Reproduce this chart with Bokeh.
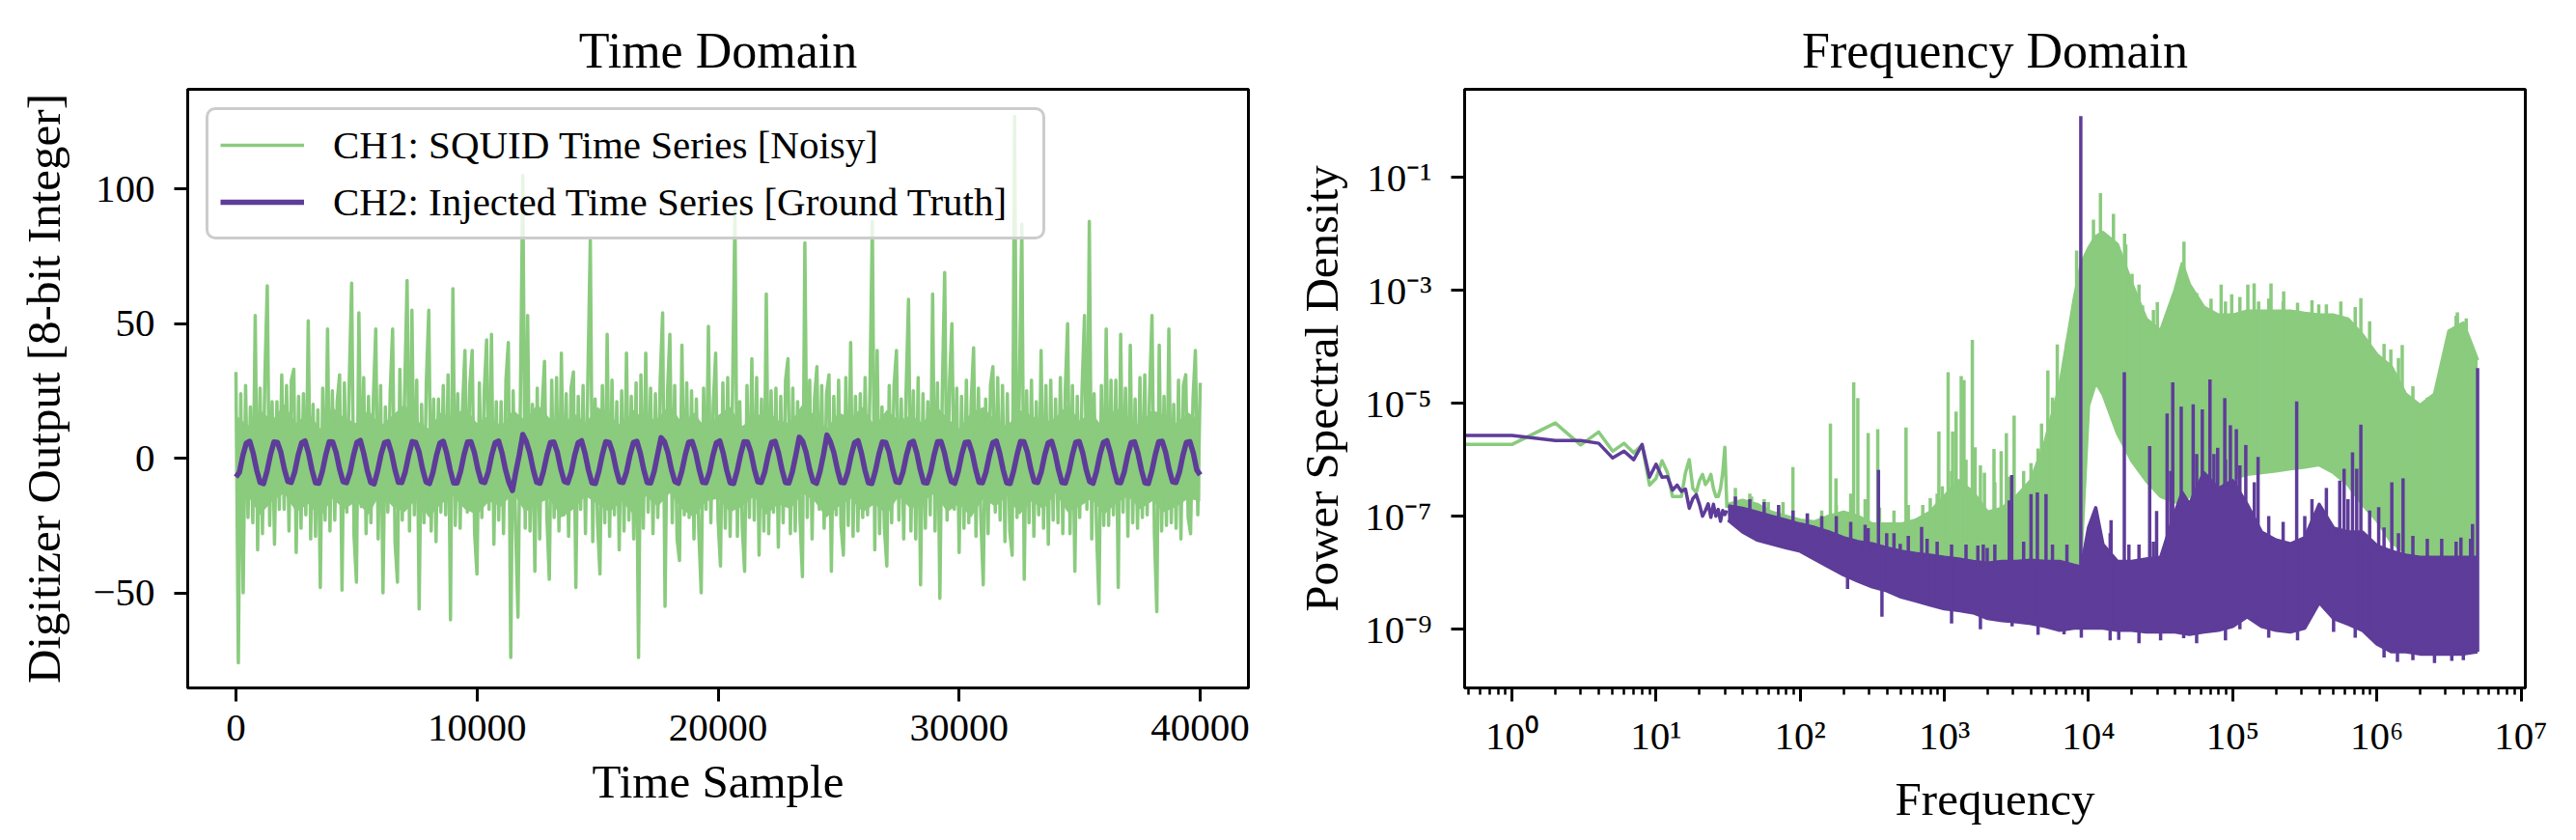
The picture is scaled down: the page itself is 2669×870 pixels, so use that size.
import numpy as np
from bokeh.plotting import figure
from bokeh.layouts import row
from bokeh.models import Range1d, FixedTicker, CustomJSTickFormatter, Legend, LegendItem
from bokeh.embed import file_html
from bokeh.resources import INLINE

FONT = "Liberation Serif"
GREEN = "#8acb7e"
PURPLE = "#5e3c99"

# ---------------- Time-domain data ----------------
ch1_sample_step = 100          # one stored value per 100 time samples
ch1_time_values = [
    32, -76, 24, -50, 27, -22, 19, -24, 53, -34,
    26, -28, 30, 64, -25, 21, -32, 21, -19, 31,
    -19, 27, -27, 29, 33, -35, 23, -26, 24, -21,
    51, -30, 20, -29, 18, -48, 26, -23, 48, -27,
    25, -23, 21, 31, -49, 28, -20, 28, 65, -29,
    -46, 54, -18, 30, -28, 23, -24, 22, 48, -30,
    27, -50, 19, -20, 25, 48, -31, -46, 33, -23,
    25, 66, -27, 55, -21, 29, -56, 20, -24, 29,
    55, -27, 22, -31, 22, -20, 27, -21, 31, -60,
    63, -25, 24, -26, 19, 40, -20, 27, 40, -28,
    -43, 28, -22, 25, 44, -19, 46, -32, 21, -23,
    21, -28, 29, 43, -74, 25, -25, -59, 22, 105,
    -26, 53, -27, 20, -42, 26, -30, 19, 36, -22,
    -45, 29, -22, 30, -27, 39, -21, 24, -29, 26,
    32, -48, 23, -19, 27, -28, 30, 81, -31, 22,
    -24, -43, 27, -24, 46, -29, 29, -21, 21, -34,
    25, -27, 39, -23, 23, -30, 28, -74, 31, -26,
    39, -20, 26, -28, 24, -22, 29, 54, -55, 24,
    46, -24, 27, -30, -38, 42, -21, 28, -22, 25,
    -30, 22, -27, -50, 26, -19, 49, -24, 20, 39,
    -23, -40, 28, -26, 30, -29, 24, 92, -29, 21,
    -25, -42, 27, -22, 37, -23, 30, -36, 22, -27,
    61, -28, 25, -20, 26, -33, 23, -24, 29, 37,
    -28, 26, -27, 21, -23, -44, 80, -22, 29, -30,
    22, 34, -19, 27, -26, 24, 31, -42, 23, -21,
    29, -25, -36, 30, -25, 43, -29, 23, -27, 24,
    -22, 30, -21, 26, 88, -34, 40, -28, 19, -26,
    -40, 27, -24, 27, 40, -23, 22, -30, 25, 59,
    -27, 25, -30, 30, -47, 24, -26, 21, -21, 61,
    -27, 28, -52, 24, 69, -23, 28, 50, -19, 26,
    -35, 23, -26, 29, -24, 21, 41, -29, 26, -22,
    -47, 22, -28, 27, 34, -20, 30, -23, 27, -31,
    24, -27, -36, 127, -22, 26, 87, -45, 25, -24,
    29, -29, 21, -21, 40, -26, 27, -32, 29, -23,
    22, -24, 30, -28, 25, 50, -28, 27, -42, 23,
    -22, 26, 53, -19, 88, -30, 24, -27, -54, 27,
    -25, 48, -25, 29, -21, 29, -48, 46, -20, 26,
    -29, 42, -24, 22, -26, 30, -22, 31, -21, 24,
    53, -28, -57, 42, -27, 23, -25, 48, -24, 20,
    -26, 29, -30, 27, 31, -22, -28, 22, 40, -21,
    28,
]
# dense (solid) core of the noisy channel, one value per 500 samples
ch1_core_step = 500
ch1_core_hi = [16, 12, 18, 14, 20, 13, 17, 11, 19, 15,
               13, 18, 12, 16, 20, 14, 11, 17, 15, 19,
               13, 16, 12, 18, 14, 20, 15, 11, 17, 13,
               19, 16, 12, 18, 14, 15, 20, 13, 17, 11,
               16, 19, 12, 15, 18, 14, 13, 20, 16, 11,
               17, 15, 19, 12, 18, 14, 16, 13, 20, 15,
               11, 17, 19, 14, 12, 18, 16, 13, 15, 20,
               14, 17, 11, 19, 15, 12, 18, 16, 13, 17,
               14]
ch1_core_lo = [-18, -14, -21, -16, -13, -20, -17, -22, -15, -19,
               -16, -21, -13, -18, -20, -15, -22, -17, -14, -19,
               -21, -16, -18, -13, -20, -17, -15, -22, -19, -14,
               -17, -20, -16, -21, -14, -18, -13, -19, -22, -16,
               -15, -20, -18, -14, -21, -17, -19, -13, -16, -22,
               -18, -15, -20, -17, -21, -14, -19, -16, -13, -20,
               -17, -22, -15, -18, -14, -21, -16, -19, -13, -20,
               -18, -15, -21, -17, -14, -19, -16, -20, -18, -15,
               -16]

ch2_time_span = (0, 40000)     # values below are evenly spread over this span
ch2_time_values = [
    -7.0, -5.2, 1.0, 5.6, 6.3, 1.8, -4.4, -9.0,
    -9.4, -4.8, 1.4, 6.0, 5.9, 2.2, -4.0, -8.6,
    -9.0, -5.1, 1.1, 5.7, 6.4, 1.9, -4.3, -9.1,
    -9.3, -4.9, 1.3, 6.1, 6.0, 2.1, -4.1, -8.7,
    -9.1, -5.2, 1.0, 5.9, 6.6, 1.7, -4.5, -9.0,
    -9.5, -4.7, 1.5, 5.8, 6.2, 2.0, -4.2, -8.9,
    -9.0, -5.0, 1.2, 6.2, 5.9, 2.3, -4.0, -8.8,
    -9.4, -5.3, 0.9, 5.6, 6.3, 1.8, -4.4, -9.2,
    -9.2, -4.9, 1.3, 6.0, 6.1, 2.1, -4.1, -8.7,
    -9.0, -5.1, 1.1, 5.8, 6.4, 1.9, -4.3, -9.0,
    -12.0, -5.0, 1.4, 8.8, 6.2, 2.0, -4.2, -8.9,
    -9.3, -4.8, 1.2, 5.9, 6.0, 2.2, -4.0, -8.6,
    -9.1, -5.2, 1.0, 5.7, 6.5, 1.8, -4.4, -9.1,
    -9.4, -4.9, 1.3, 6.1, 5.9, 2.1, -4.1, -8.8,
    -9.0, -5.1, 1.1, 5.8, 6.3, 1.9, -4.3, -9.0,
    -9.2, -5.0, 1.4, 7.6, 6.1, 2.0, -4.2, -8.7,
    -9.3, -4.9, 1.2, 6.0, 6.2, 2.1, -4.0, -8.9,
    -9.1, -5.2, 1.0, 5.7, 6.4, 1.8, -4.4, -9.1,
    -9.4, -4.8, 1.3, 6.1, 6.0, 2.2, -4.1, -8.8,
    -9.0, -5.1, 1.1, 5.9, 6.3, 1.9, -4.3, -9.0,
    -9.2, -5.0, 1.2, 7.8, 6.2, 2.0, -4.2, -8.7,
    -9.3, -4.9, 1.4, 8.6, 6.1, 2.1, -4.0, -8.9,
    -9.1, -5.2, 1.0, 5.8, 6.5, 1.8, -4.4, -9.1,
    -9.4, -4.8, 1.3, 6.0, 5.9, 2.2, -4.1, -8.8,
    -9.0, -5.1, 1.1, 5.7, 6.3, 1.9, -4.3, -9.0,
    -9.2, -5.0, 1.2, 6.1, 6.2, 2.0, -4.2, -8.7,
    -9.3, -4.9, 1.4, 5.9, 6.0, 2.1, -4.0, -8.9,
    -9.1, -5.2, 1.0, 5.8, 6.4, 1.8, -4.4, -9.1,
    -9.4, -4.8, 1.3, 6.2, 6.1, 2.2, -4.1, -8.8,
    -9.0, -5.1, 1.1, 5.7, 6.3, 1.9, -4.3, -9.0,
    -9.2, -5.0, 1.2, 6.0, 6.2, 2.0, -4.2, -8.7,
    -9.3, -4.9, 1.4, 5.9, 6.5, 2.1, -4.0, -8.9,
    -9.1, -5.2, 1.0, 5.8, 6.1, 1.8, -4.4, -9.1,
    -9.4, -4.8, 1.3, 6.1, 6.3, 2.2, -4.1, -8.8,
    -9.0, -5.1, 1.1, 5.9, 6.2, 1.9, -4.3, -6.2,
]

# ---------------- Frequency-domain data (log10 of PSD) ----------------
low_freq = list(range(32))  # Hz (0 .. 31)
ch1_low_log = [-5.73, -5.73, -5.35, -5.74, -5.51, -5.85, -5.71, -5.88, -5.74, -6.45,
               -6.33, -6.02, -6.23, -6.65, -6.65, -6.65, -6.23, -6.00, -6.51, -6.58,
               -6.37, -6.26, -6.44, -6.37, -6.26, -6.51, -6.65, -6.65, -6.51, -6.23,
               -5.78, -6.85]
ch2_low_log = [-5.57, -5.57, -5.66, -5.66, -5.71, -5.97, -5.85, -6.00, -5.73, -6.31,
               -6.08, -6.31, -6.30, -6.54, -6.45, -6.56, -6.52, -6.86, -6.69, -6.62,
               -6.79, -7.00, -6.90, -6.78, -7.02, -6.79, -7.00, -6.88, -7.09, -6.90,
               -6.97, -6.90]

band_freq = [31.6, 39.8, 50.1, 63.1, 79.4, 100, 126, 158, 200, 251, 316, 398, 501, 631, 794,
             1000, 1259, 1585, 1995, 2512, 3162, 3981, 5012, 6310, 7943, 8913, 10000, 11220,
             12589, 15849, 19953, 25119, 31623, 39811, 44668, 50119, 63096, 79433, 1e5,
             125893, 158489, 199526, 251189, 316228, 398107, 501187, 630957, 794328, 1e6,
             1258925, 1584893, 1995262, 2511886, 3162278, 3981072, 5e6]

ch1_band_hi_log = [-6.79, -6.72, -6.79, -6.93, -7.00, -7.07, -7.10, -7.00, -6.93, -7.00,
                   -7.14, -7.14, -7.14, -7.07, -6.93, -6.65, -6.37, -6.58, -6.93, -6.86,
                   -6.65, -6.37, -5.67, -4.70, -3.16, -2.53, -2.26, -2.05, -1.98, -2.19,
                   -2.88, -3.51, -3.72, -3.00, -2.53, -2.90, -3.30, -3.44, -3.44, -3.37,
                   -3.37, -3.37, -3.37, -3.41, -3.44, -3.44, -3.51, -3.79, -4.14, -4.35,
                   -4.84, -5.04, -4.84, -3.72, -3.58, -4.24]
ch1_band_lo_log = [-6.95, -7.00, -7.10, -7.20, -7.25, -7.30, -7.40, -7.50, -7.60, -7.70,
                   -7.75, -7.80, -7.90, -7.95, -8.00, -8.00, -8.05, -8.10, -8.10, -8.10,
                   -8.10, -8.10, -8.10, -8.10, -8.10, -7.60, -5.04, -4.63, -4.84, -5.53,
                   -6.02, -6.37, -6.65, -6.75, -6.72, -6.65, -6.51, -6.44, -6.33, -6.26,
                   -6.23, -6.20, -6.16, -6.13, -6.09, -6.23, -6.44, -6.79, -7.07, -7.45,
                   -7.66, -7.75, -7.75, -7.75, -7.75, -7.75]
ch2_band_hi_log = [-6.82, -6.86, -6.93, -7.00, -7.07, -7.14, -7.20, -7.28, -7.38, -7.45,
                   -7.49, -7.56, -7.62, -7.66, -7.69, -7.73, -7.76, -7.80, -7.83, -7.80,
                   -7.80, -7.78, -7.80, -7.80, -7.87, -7.90, -7.20, -6.85, -7.50, -7.80,
                   -7.80, -7.76, -7.73, -6.93, -6.58, -6.79, -6.23, -6.51, -6.37, -6.79,
                   -7.28, -7.42, -7.49, -7.38, -6.79, -7.21, -7.28, -7.28, -7.52, -7.62,
                   -7.69, -7.73, -7.73, -7.73, -7.73, -7.73]
ch2_band_lo_log = [-7.07, -7.28, -7.42, -7.49, -7.56, -7.62, -7.76, -7.90, -8.04, -8.15,
                   -8.25, -8.32, -8.43, -8.50, -8.57, -8.64, -8.67, -8.71, -8.81, -8.85,
                   -8.87, -8.90, -8.95, -9.02, -8.98, -8.98, -8.98, -8.98, -8.98, -9.02,
                   -9.02, -9.05, -9.05, -9.05, -9.07, -9.09, -9.05, -9.02, -8.95, -8.78,
                   -8.95, -9.02, -9.05, -8.98, -8.53, -8.81, -8.91, -9.02, -9.26, -9.40,
                   -9.40, -9.44, -9.44, -9.44, -9.44, -9.40]

# upward spikes (frequency in Hz, log10 PSD at the spike tip)
ch1_spike_freq = [46, 60, 76, 89, 162, 177, 235, 251, 296, 345, 542, 798, 916, 968, 1062,
                  1141, 1206, 1309, 1368, 1563, 1634, 1896, 2209, 2477, 2692, 3047, 3990,
                  4720, 5222, 6072, 7063, 8265, 10820, 12100, 14890, 18120, 20040, 23710,
                  30000, 45920, 83180, 98400, 127400, 140900, 184500, 225800, 395500,
                  774600, 1250000, 1500000, 2660000, 3620000,
                  35.5, 44.7, 56.2, 70.8, 112, 141, 178, 224, 282, 355, 447, 562, 708, 891,
                  1122, 1413, 1778, 2239, 2818, 3548, 4467, 5623, 7079, 17783, 22387, 28184,
                  35481, 56234, 70795, 89125, 112202, 151356, 177828, 223872, 281838, 354813,
                  446684, 562341, 707946, 891251, 1122018, 1412538, 1778279, 2238721,
                  2818383, 3548134, 4168694]
ch1_spike_log = [-6.65, -6.75, -6.75, -6.13, -5.36, -6.33, -4.63, -4.91, -5.53, -5.46, -5.43,
                 -6.68, -5.50, -6.47, -4.45, -5.50, -5.15, -4.52, -4.59, -3.88, -5.78, -6.23,
                 -5.81, -5.85, -5.53, -5.22, -6.06, -5.36, -4.42, -3.96, -3.96, -2.30, -1.75,
                 -1.28, -1.65, -2.19, -2.71, -3.27, -3.21, -2.14, -2.90, -3.07, -2.90, -2.88,
                 -2.88, -3.02, -3.25, -3.14, -4.05, -3.97, -4.70, -3.39,
                 -6.50, -6.60, -6.70, -6.85, -6.95, -6.90, -6.80, -6.60, -6.70, -6.85,
                 -6.90, -6.80, -6.80, -6.60, -6.20, -6.00, -6.10, -6.40, -6.30, -6.20,
                 -5.80, -4.90, -3.90, -2.00, -2.90, -3.35, -3.50, -3.05, -3.15, -3.20,
                 -3.12, -3.20, -3.15, -3.20, -3.22, -3.18, -3.25, -3.20, -3.30, -3.55,
                 -3.95, -4.20, -4.70, -4.90, -4.30, -3.45, -3.50]

ch2_spike_freq = [296, 349, 494, 695, 1707, 1982, 2818, 2931, 3990, 4416, 5070, 8836, 14330,
                  17710, 26550, 29670, 35090, 38380, 43950, 53200, 61560, 69550, 78700,
                  88100, 96400, 106000, 123300, 150000, 277900, 553000, 592700, 678000,
                  725000, 774600, 1030000, 1270000, 1520000, 3830000, 4610000, 5000000,
                  35.5, 44.7, 56.2, 70.8, 89.1, 112, 141, 178, 224, 282, 398, 447, 562,
                  759, 891, 1122, 1413, 1862, 2239, 3548, 5623, 7079, 14125, 19055, 22387,
                  28184, 37154, 56234, 74131, 89125, 112202, 141254, 177828, 223872,
                  316228, 354813, 446684, 630957, 891251, 1122018, 1412538, 1778279,
                  2238721, 2818383, 3548134, 4466836]
ch2_spike_log = [-7.21, -6.18, -7.49, -7.19, -7.52, -7.56, -6.72, -6.27, -6.61, -6.58, -6.61,
                 0.08, -7.07, -4.45, -5.76, -6.91, -5.18, -4.63, -5.06, -5.02, -5.11, -4.58,
                 -5.79, -4.91, -5.39, -5.46, -5.74, -5.95, -4.97, -6.37, -6.16, -5.87, -6.16,
                 -5.38, -6.84, -6.40, -6.33, -7.38, -7.14, -4.38,
                 -6.65, -6.70, -6.75, -6.80, -6.90, -6.95, -7.00, -7.00, -7.10, -7.15,
                 -7.30, -7.30, -7.35, -7.40, -7.45, -7.50, -7.50, -7.50, -7.50, -7.45,
                 -7.50, -7.50, -7.30, -7.50, -7.50, -7.45, -6.20, -5.90, -5.90, -6.00,
                 -6.10, -6.40, -7.00, -7.10, -7.00, -6.70, -6.50, -6.70, -6.90, -7.20,
                 -7.30, -7.35, -7.40, -7.40, -7.45, -7.40]

# downward spikes of CH2
ch2_dip_freq = [213, 369, 1122, 1778, 2950, 4467, 6760, 8913, 14125, 16200, 22387, 31623,
                45700, 56234, 89125, 112202, 177828, 281838, 501187, 707946, 1122018,
                1390000, 1778279, 2511886, 3310000, 3981072]
ch2_dip_log = [-8.29, -8.78, -8.90, -9.00, -8.95, -9.10, -9.09, -9.15, -9.20, -9.19, -9.25,
               -9.20, -9.16, -9.25, -9.20, -9.00, -9.15, -9.20, -9.05, -9.15, -9.50, -9.58,
               -9.55, -9.60, -9.56, -9.55]

for a, b in [(ch1_band_hi_log, band_freq), (ch1_band_lo_log, band_freq),
             (ch2_band_hi_log, band_freq), (ch2_band_lo_log, band_freq),
             (ch1_spike_log, ch1_spike_freq), (ch2_spike_log, ch2_spike_freq),
             (ch1_low_log, low_freq), (ch2_low_log, low_freq), (ch2_dip_log, ch2_dip_freq),
             (ch1_core_hi, ch1_core_lo)]:
    assert len(a) == len(b), (len(a), len(b))
assert len(ch1_time_values) == 401 and len(ch1_core_hi) == 81

# ---------------- helpers ----------------
def style(p):
    p.title.text_font = FONT
    p.title.text_font_size = "52px"
    p.title.text_font_style = "normal"
    p.title.text_color = "black"
    p.title.align = "center"
    p.title.standoff = 24
    p.outline_line_color = "black"
    p.outline_line_width = 3
    p.outline_line_alpha = 1.0
    p.xgrid.visible = False
    p.ygrid.visible = False
    p.background_fill_color = "white"
    p.border_fill_color = "white"
    for ax in p.axis:
        ax.axis_label_text_font = FONT
        ax.axis_label_text_font_size = "49px"
        ax.axis_label_text_font_style = "normal"
        ax.axis_label_text_color = "black"
        ax.major_label_text_font = FONT
        ax.major_label_text_font_size = "41px"
        ax.major_label_text_color = "black"
        ax.axis_line_width = 3
        ax.major_tick_line_width = 3
        ax.minor_tick_line_width = 2.5
        ax.major_tick_in = 0
        ax.major_tick_out = 14
        ax.minor_tick_in = 0
        ax.minor_tick_out = 7


FRAME_W, FRAME_H = 1099, 620
TOP, BOT = 92, 150
H = TOP + FRAME_H + BOT
W1 = 1320
W2 = 1341

# ---------------- Time domain ----------------
p1 = figure(width=W1, height=H, title="Time Domain",
            x_range=Range1d(-2000, 42000), y_range=Range1d(-85.3, 137),
            output_backend="svg", toolbar_location=None,
            min_border_left=194, min_border_right=W1 - 194 - FRAME_W,
            min_border_top=TOP, min_border_bottom=BOT)
style(p1)
p1.xaxis.axis_label = "Time Sample"
p1.yaxis.axis_label = "Digitizer Output [8-bit Integer]"
p1.xaxis.ticker = FixedTicker(ticks=[0, 10000, 20000, 30000, 40000], minor_ticks=[])
p1.yaxis.ticker = FixedTicker(ticks=[-50, 0, 50, 100], minor_ticks=[])
p1.yaxis.formatter = CustomJSTickFormatter(
    code="return tick < 0 ? '\u2212' + Math.abs(tick) : String(tick);")
p1.xaxis.major_label_standoff = 14
p1.yaxis.major_label_standoff = 20
p1.xaxis.axis_label_standoff = 12
p1.yaxis.axis_label_standoff = 20

tc = np.arange(len(ch1_core_hi)) * ch1_core_step
p1.varea(x=tc, y1=ch1_core_lo, y2=ch1_core_hi, fill_color=GREEN)
t1 = np.arange(len(ch1_time_values)) * ch1_sample_step
t2 = np.linspace(ch2_time_span[0], ch2_time_span[1], len(ch2_time_values))
r_g = p1.line(t1, ch1_time_values, line_color=GREEN, line_width=3.5, line_join="round")
r_p = p1.line(t2, ch2_time_values, line_color=PURPLE, line_width=5.5, line_join="round")

legend = Legend(items=[
    LegendItem(label="CH1: SQUID Time Series [Noisy]", renderers=[r_g]),
    LegendItem(label="CH2: Injected Time Series [Ground Truth]", renderers=[r_p]),
], location="top_left")
legend.label_text_font = FONT
legend.label_text_font_size = "41px"
legend.label_text_color = "black"
legend.glyph_width = 87
legend.glyph_height = 40
legend.label_height = 40
legend.label_width = 723
legend.label_standoff = 30
legend.spacing = 11
legend.padding = 12
legend.margin = 19
legend.border_line_color = "#cccccc"
legend.border_line_width = 3
legend.border_line_alpha = 1.0
legend.background_fill_color = "white"
legend.background_fill_alpha = 0.8
if "border_radius" in Legend.properties():
    legend.border_radius = 10
p1.add_layout(legend)

# ---------------- Frequency domain ----------------
x_lo, x_hi = 10 ** -0.328, 10 ** 7.03
p2 = figure(width=W2, height=H, title="Frequency Domain",
            x_axis_type="log", y_axis_type="log",
            x_range=Range1d(x_lo, x_hi), y_range=Range1d(10 ** -10.04, 10 ** 0.556),
            output_backend="svg", toolbar_location=None,
            min_border_left=197, min_border_right=W2 - 197 - FRAME_W,
            min_border_top=TOP, min_border_bottom=BOT)
style(p2)
p2.xaxis.axis_label = "Frequency"
p2.yaxis.axis_label = "Power Spectral Density"
minor_x = [m * 10.0 ** k for k in range(-1, 7) for m in range(2, 10)]
minor_x = [v for v in minor_x if x_lo <= v <= x_hi]
p2.xaxis.ticker = FixedTicker(ticks=[10.0 ** k for k in range(0, 8)], minor_ticks=minor_x)
p2.yaxis.ticker = FixedTicker(ticks=[1e-9, 1e-7, 1e-5, 1e-3, 1e-1], minor_ticks=[])
sup_code = """
const sup = {'-':'\u207b','0':'\u2070','1':'\u00b9','2':'\u00b2','3':'\u00b3','4':'\u2074',
             '5':'\u2075','6':'\u2076','7':'\u2077','8':'\u2078','9':'\u2079'};
const e = Math.round(Math.log10(tick));
return '10' + String(e).split('').map(c => sup[c]).join('');
"""
p2.xaxis.formatter = CustomJSTickFormatter(code=sup_code)
p2.yaxis.formatter = CustomJSTickFormatter(code=sup_code)
p2.xaxis.major_label_standoff = 12
p2.yaxis.major_label_standoff = 20
p2.xaxis.axis_label_standoff = 12
p2.yaxis.axis_label_standoff = 14

lf = np.array([x_lo if f == 0 else f for f in low_freq], dtype=float)
bf = np.array(band_freq, dtype=float)
lbf = np.log10(bf)


def draw_series(color, low_log, hi_log, lo_log, spk_f, spk_log, lw):
    p2.line(lf, 10.0 ** np.array(low_log), line_color=color, line_width=lw, line_join="round")
    hi = 10.0 ** np.array(hi_log)
    lo = 10.0 ** np.array(lo_log)
    p2.varea(x=bf, y1=lo, y2=hi, fill_color=color)
    p2.line(bf, hi, line_color=color, line_width=lw, line_join="round")
    p2.line(bf, lo, line_color=color, line_width=lw, line_join="round")
    sf = np.array(spk_f, dtype=float)
    base = 10.0 ** np.interp(np.log10(sf), lbf, np.array(lo_log))
    p2.segment(x0=sf, y0=base, x1=sf, y1=10.0 ** np.array(spk_log),
               line_color=color, line_width=lw)


draw_series(GREEN, ch1_low_log, ch1_band_hi_log, ch1_band_lo_log,
            ch1_spike_freq, ch1_spike_log, 3.5)
draw_series(PURPLE, ch2_low_log, ch2_band_hi_log, ch2_band_lo_log,
            ch2_spike_freq, ch2_spike_log, 3.5)
df = np.array(ch2_dip_freq, dtype=float)
dip_base = 10.0 ** np.interp(np.log10(df), lbf, np.array(ch2_band_lo_log))
p2.segment(x0=df, y0=dip_base, x1=df, y1=10.0 ** np.array(ch2_dip_log),
           line_color=PURPLE, line_width=3.5)

layout = row(p1, p2)
open("out.html", "w").write(file_html(layout, INLINE))
